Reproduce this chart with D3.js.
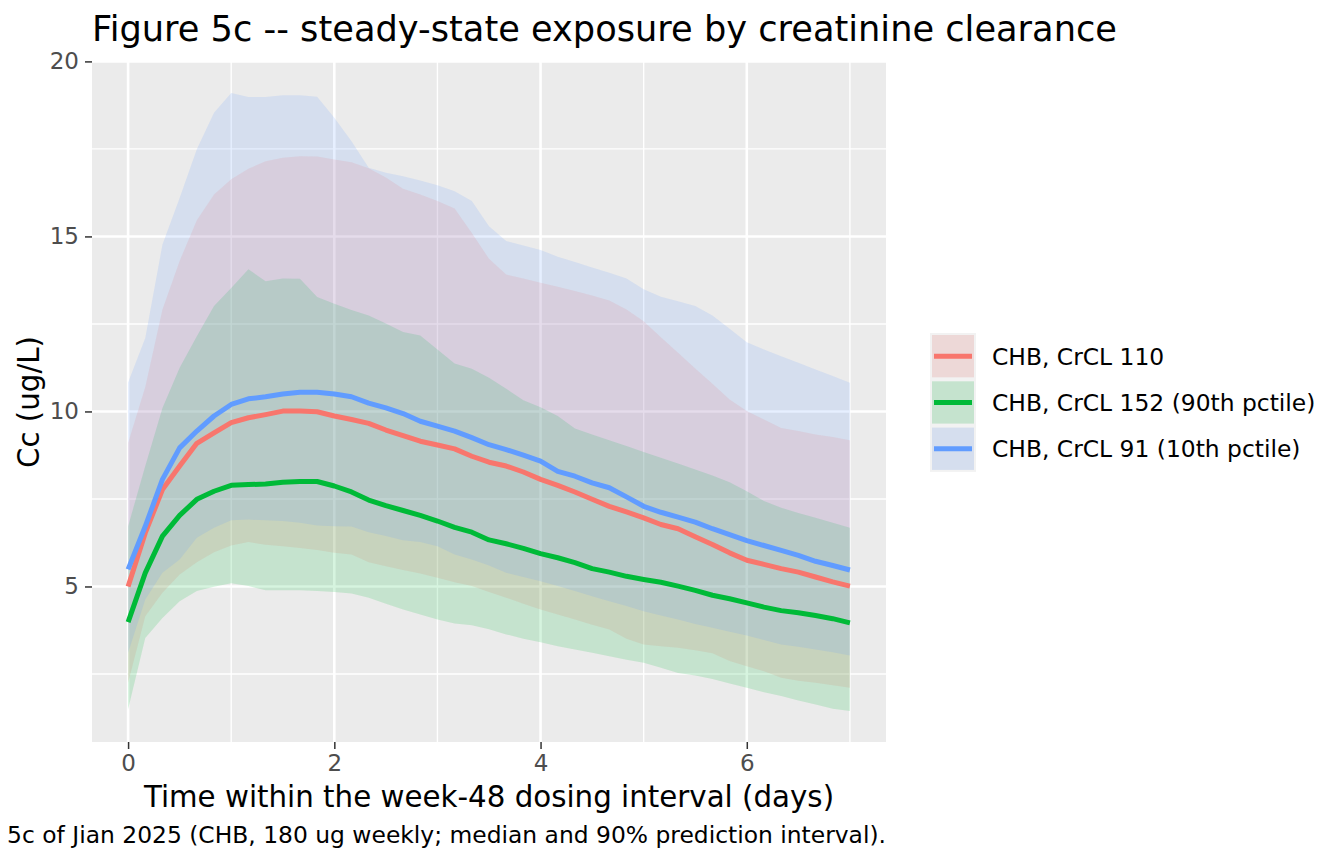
<!DOCTYPE html>
<html lang="en">
<head>
<meta charset="utf-8">
<title>Figure 5c -- steady-state exposure by creatinine clearance</title>
<style>
  body { margin: 0; background: #fff; }
  svg text { font-family: "DejaVu Sans", sans-serif; }
</style>
</head>
<body>
<script src="https://d3js.org/d3.v7.min.js"></script>
<script>
// time grid: every 4 hours over the 7-day interval
const time = [0, 1/6, 2/6, 3/6, 4/6, 5/6, 1, 7/6, 8/6, 9/6, 10/6, 11/6, 2, 13/6, 14/6, 15/6, 16/6, 17/6,
  3, 19/6, 20/6, 21/6, 22/6, 23/6, 4, 25/6, 26/6, 27/6, 28/6, 29/6, 5, 31/6, 32/6, 33/6, 34/6, 35/6,
  6, 37/6, 38/6, 39/6, 40/6, 41/6, 7];

// CrCL 110
const redMed = [5.0, 6.53, 7.77, 8.44, 9.09, 9.39, 9.68, 9.82, 9.91, 10.01, 10.01, 9.99, 9.87, 9.77, 9.66, 9.47, 9.31, 9.15,
  9.04, 8.93, 8.72, 8.55, 8.44, 8.27, 8.06, 7.89, 7.7, 7.49, 7.29, 7.13, 6.96, 6.77, 6.65, 6.42, 6.2, 5.96,
  5.75, 5.63, 5.51, 5.41, 5.27, 5.13, 5.01];
const redLo = [2.25, 4.15, 4.82, 5.34, 5.69, 5.98, 6.17, 6.27, 6.19, 6.15, 6.1, 6.04, 5.96, 5.91, 5.69, 5.58, 5.47, 5.37,
  5.25, 5.12, 5.01, 4.84, 4.68, 4.51, 4.34, 4.2, 4.06, 3.91, 3.77, 3.51, 3.34, 3.29, 3.25, 3.18, 3.09, 2.87,
  2.72, 2.58, 2.39, 2.31, 2.25, 2.18, 2.11];
const redHi = [9.1, 10.7, 12.91, 14.3, 15.46, 16.2, 16.63, 16.93, 17.15, 17.25, 17.29, 17.28, 17.2, 17.12, 16.95, 16.68, 16.36, 16.2,
  16.01, 15.8, 15.1, 14.36, 13.91, 13.8, 13.68, 13.56, 13.44, 13.31, 13.17, 12.91, 12.58, 12.12, 11.68, 11.23, 10.79, 10.34,
  10.01, 9.77, 9.53, 9.44, 9.34, 9.27, 9.18];

// CrCL 152 (90th pctile)
const greenMed = [3.98, 5.39, 6.44, 7.03, 7.49, 7.72, 7.89, 7.91, 7.93, 7.98, 8.0, 8.0, 7.87, 7.7, 7.47, 7.31, 7.17, 7.03,
  6.87, 6.69, 6.55, 6.33, 6.22, 6.09, 5.94, 5.82, 5.68, 5.51, 5.41, 5.29, 5.2, 5.12, 5.01, 4.89, 4.75, 4.65,
  4.53, 4.41, 4.31, 4.25, 4.17, 4.08, 3.96];
const greenLo = [1.49, 3.53, 4.1, 4.58, 4.87, 4.99, 5.09, 5.01, 4.89, 4.89, 4.89, 4.87, 4.84, 4.8, 4.68, 4.51, 4.34, 4.2,
  4.06, 3.94, 3.89, 3.78, 3.63, 3.51, 3.41, 3.29, 3.2, 3.11, 3.01, 2.91, 2.82, 2.68, 2.53, 2.46, 2.36, 2.23,
  2.11, 1.98, 1.87, 1.74, 1.63, 1.51, 1.44];
const greenHi = [6.72, 8.44, 10.1, 11.25, 12.15, 13.01, 13.53, 14.06, 13.72, 13.8, 13.79, 13.27, 13.08, 12.9, 12.74, 12.51, 12.27, 12.17,
  11.77, 11.37, 11.22, 10.96, 10.65, 10.32, 10.12, 9.87, 9.51, 9.34, 9.18, 9.01, 8.84, 8.68, 8.51, 8.34, 8.17, 7.98,
  7.72, 7.44, 7.25, 7.1, 6.96, 6.82, 6.68];

// CrCL 91 (10th pctile)
const blueMed = [5.49, 6.72, 8.06, 8.96, 9.44, 9.87, 10.2, 10.36, 10.42, 10.5, 10.55, 10.55, 10.5, 10.42, 10.24, 10.1, 9.94, 9.72,
  9.58, 9.44, 9.25, 9.05, 8.91, 8.75, 8.58, 8.29, 8.15, 7.96, 7.82, 7.56, 7.29, 7.12, 6.98, 6.84, 6.65, 6.48,
  6.31, 6.17, 6.03, 5.89, 5.72, 5.6, 5.47];
const blueLo = [3.11, 4.63, 5.39, 5.77, 6.39, 6.68, 6.89, 6.91, 6.89, 6.87, 6.82, 6.74, 6.72, 6.71, 6.55, 6.44, 6.32, 6.27,
  6.15, 5.91, 5.77, 5.6, 5.39, 5.27, 5.15, 5.01, 4.87, 4.72, 4.58, 4.44, 4.29, 4.17, 4.06, 3.93, 3.82, 3.71,
  3.6, 3.47, 3.34, 3.28, 3.2, 3.12, 3.03];
const blueHi = [10.83, 12.1, 14.77, 16.1, 17.49, 18.53, 19.1, 18.98, 18.98, 19.03, 19.03, 18.99, 18.39, 17.72, 16.96, 16.82, 16.72, 16.6,
  16.46, 16.29, 16.01, 15.29, 14.87, 14.74, 14.61, 14.42, 14.27, 14.11, 13.96, 13.8, 13.49, 13.28, 13.15, 13.01, 12.74, 12.36,
  11.98, 11.77, 11.58, 11.39, 11.2, 11.01, 10.82];

const seriesNames = ["CHB, CrCL 110", "CHB, CrCL 152 (90th pctile)", "CHB, CrCL 91 (10th pctile)"];
const seriesColors = ["#F8766D", "#00BA38", "#619CFF"];
const xTicks = [0, 2, 4, 6];
const yTicks = [5, 10, 15, 20];

const series = [
  { name: seriesNames[0], color: seriesColors[0], med: redMed, lo: redLo, hi: redHi },
  { name: seriesNames[1], color: seriesColors[1], med: greenMed, lo: greenLo, hi: greenHi },
  { name: seriesNames[2], color: seriesColors[2], med: blueMed, lo: blueLo, hi: blueHi }
];

const width = 1344, height = 864;
const panel = { left: 92, right: 886, top: 62, bottom: 742 };

const svg = d3.select("body").append("svg")
    .attr("width", width)
    .attr("height", height);

// ggplot-style 5% expansion
const xExt = d3.extent(time);
const xPad = (xExt[1] - xExt[0]) * 0.05;
const x = d3.scaleLinear()
    .domain([xExt[0] - xPad, xExt[1] + xPad])
    .range([panel.left, panel.right]);

const yExt = d3.extent(series.flatMap(s => s.lo.concat(s.hi)));
const yPad = (yExt[1] - yExt[0]) * 0.05;
const y = d3.scaleLinear()
    .domain([yExt[0] - yPad, yExt[1] + yPad])
    .range([panel.bottom, panel.top]);

// panel background
svg.append("rect")
    .attr("x", panel.left).attr("y", panel.top)
    .attr("width", panel.right - panel.left)
    .attr("height", panel.bottom - panel.top)
    .attr("fill", "#EBEBEB");

// grid lines
const xMinor = [1, 3, 5, 7];
const yMinor = [2.5, 7.5, 12.5, 17.5];
const grid = svg.append("g").attr("stroke", "#fff");
grid.selectAll(".xminor").data(xMinor).join("line")
    .attr("class", "xminor")
    .attr("x1", d => x(d)).attr("x2", d => x(d))
    .attr("y1", panel.top).attr("y2", panel.bottom)
    .attr("stroke-width", 1.4);
grid.selectAll(".yminor").data(yMinor.filter(v => y(v) > panel.top && y(v) < panel.bottom)).join("line")
    .attr("class", "yminor")
    .attr("x1", panel.left).attr("x2", panel.right)
    .attr("y1", d => y(d)).attr("y2", d => y(d))
    .attr("stroke-width", 1.4);
grid.selectAll(".xmajor").data(xTicks).join("line")
    .attr("class", "xmajor")
    .attr("x1", d => x(d)).attr("x2", d => x(d))
    .attr("y1", panel.top).attr("y2", panel.bottom)
    .attr("stroke-width", 2.6);
grid.selectAll(".ymajor").data(yTicks).join("line")
    .attr("class", "ymajor")
    .attr("x1", panel.left).attr("x2", panel.right)
    .attr("y1", d => y(d)).attr("y2", d => y(d))
    .attr("stroke-width", 2.6);

// ribbons and median lines
const area = d3.area()
    .x(d => x(d.t))
    .y0(d => y(d.lo))
    .y1(d => y(d.hi));
const line = d3.line()
    .x(d => x(d.t))
    .y(d => y(d.med));

const rows = s => time.map((t, i) => ({ t, med: s.med[i], lo: s.lo[i], hi: s.hi[i] }));

svg.append("g").selectAll("path")
    .data(series)
    .join("path")
    .attr("d", s => area(rows(s)))
    .attr("fill", s => s.color)
    .attr("fill-opacity", 0.16);

svg.append("g").selectAll("path")
    .data(series)
    .join("path")
    .attr("d", s => line(rows(s)))
    .attr("fill", "none")
    .attr("stroke", s => s.color)
    .attr("stroke-width", 5)
    .attr("stroke-linejoin", "round");

// axes
const xAxis = svg.append("g")
    .attr("transform", `translate(0,${panel.bottom})`)
    .call(d3.axisBottom(x).tickValues(xTicks).tickSize(7).tickPadding(6).tickFormat(d3.format("d")));
const yAxis = svg.append("g")
    .attr("transform", `translate(${panel.left},0)`)
    .call(d3.axisLeft(y).tickValues(yTicks).tickSize(7).tickPadding(6).tickFormat(d3.format("d")));
[xAxis, yAxis].forEach(a => {
  a.select(".domain").remove();
  a.selectAll(".tick line").attr("stroke", "#333333").attr("stroke-width", 1.5);
  a.selectAll(".tick text")
      .attr("fill", "#4D4D4D")
      .style("font-size", "23px")
      .style("font-family", "DejaVu Sans, sans-serif");
});

// titles
svg.append("text")
    .attr("x", panel.left)
    .attr("y", 41)
    .style("font-size", "35.2px")
    .text("Figure 5c -- steady-state exposure by creatinine clearance");

svg.append("text")
    .attr("x", (panel.left + panel.right) / 2)
    .attr("y", 807)
    .attr("text-anchor", "middle")
    .style("font-size", "29.3px")
    .text("Time within the week-48 dosing interval (days)");

svg.append("text")
    .attr("transform", `translate(38.5,${(panel.top + panel.bottom) / 2}) rotate(-90)`)
    .attr("text-anchor", "middle")
    .style("font-size", "29.3px")
    .text("Cc (ug/L)");

svg.append("text")
    .attr("x", panel.right)
    .attr("y", 843)
    .attr("text-anchor", "end")
    .style("font-size", "23.4px")
    .text("5c of Jian 2025 (CHB, 180 ug weekly; median and 90% prediction interval).");

// legend
const keySize = 46.3;
const legend = svg.append("g").attr("transform", "translate(930,333)");
legend.append("rect")
    .attr("width", 46).attr("height", keySize * series.length)
    .attr("fill", "#F2F2F2");
const item = legend.selectAll(".item")
    .data(series)
    .join("g")
    .attr("class", "item")
    .attr("transform", (d, i) => `translate(0,${i * keySize})`);
item.append("rect")
    .attr("x", 2).attr("y", 2)
    .attr("width", 42).attr("height", keySize - 4)
    .attr("fill", "#EBEBEB");
item.append("rect")
    .attr("x", 2).attr("y", 2)
    .attr("width", 42).attr("height", keySize - 4)
    .attr("fill", d => d.color)
    .attr("fill-opacity", 0.16);
item.append("line")
    .attr("x1", 4).attr("x2", 42)
    .attr("y1", keySize / 2).attr("y2", keySize / 2)
    .attr("stroke", d => d.color)
    .attr("stroke-width", 5);
item.append("text")
    .attr("x", 62)
    .attr("y", keySize / 2)
    .attr("dy", "0.36em")
    .style("font-size", "23.4px")
    .text(d => d.name);
</script>
</body>
</html>
